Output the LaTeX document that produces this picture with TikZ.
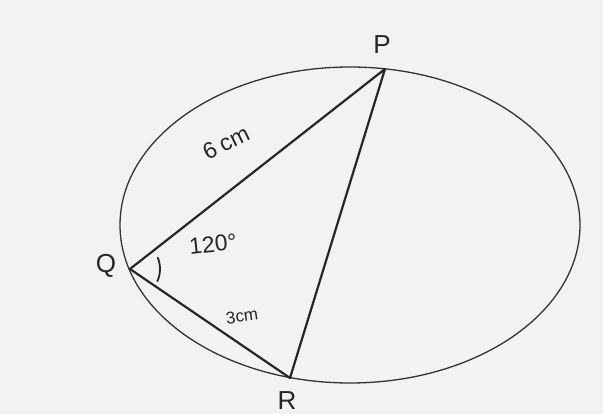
\documentclass[tikz,border=0pt]{standalone}
\usepackage{fontspec}
\setmainfont{Liberation Sans}
\usepackage{tikz}
\usetikzlibrary{positioning,calc}

\begin{document}
\begin{tikzpicture}[
  x=1pt, y=-1pt,
  pen/.style={draw=black!85, line width=2.2pt, line cap=round, line join=round},
  rim/.style={draw=black!80, line width=1.3pt},
  lbl/.style={font=\fontsize{26}{28}\selectfont, text=black!85},
  len/.style={font=\fontsize{17}{19}\selectfont, text=black!85, inner sep=1pt}]

% Paper and frame.
\fill[black!5] (0,0) rectangle (603,414);
\useasboundingbox (0,0) rectangle (603,414);

% The circle through the three points.
\draw[rim] (350,225) ellipse [x radius=230, y radius=158];

% Vertices of the triangle.
\coordinate (P) at (385,69);
\coordinate (Q) at (130,269);
\coordinate (R) at (290,378);

\draw[pen] (P) -- (Q) -- (R) -- cycle;

% Angle mark at Q.
\draw[pen, line width=1.8pt] ($(Q)+(-22:30)$) arc[start angle=-22, end angle=24, radius=30];

% Vertex labels.
\node[lbl] (lP) at (382,45) {P};
\node[lbl] (lQ) at (106,266) {Q};
\node[lbl] (lR) at (287,401) {R};

% Side and angle labels.
\node[len, font=\fontsize{23}{25}\selectfont, rotate=26] (l6) at (226,143) {6\kern5pt cm};
\node[len, font=\fontsize{23}{25}\selectfont, rotate=6] (la) at (213,244) {120°};
\node[len, rotate=8] (l3) at (242,316) {3cm};
\end{tikzpicture}
\end{document}
